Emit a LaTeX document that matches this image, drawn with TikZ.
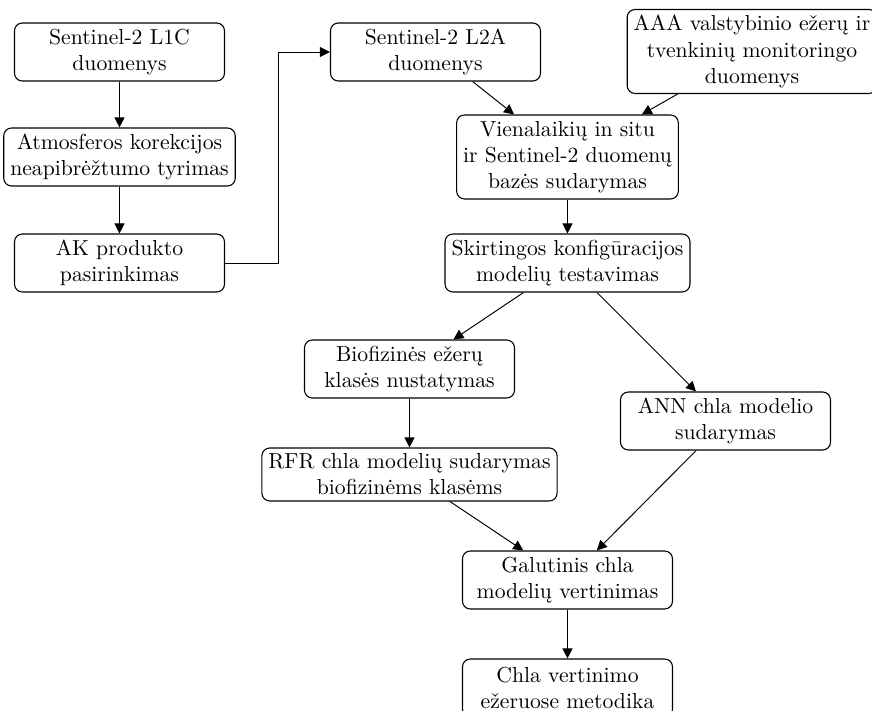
\documentclass[tikz,border=0pt]{standalone}
\usetikzlibrary{arrows.meta}
\newcommand{\pxlen}{0.4608pt}
\begin{document}
\begin{tikzpicture}[x=0.4608pt,y=-0.4608pt,
  box/.style={draw, rounded corners=3.6pt, align=center, inner xsep=3pt, inner ysep=1pt,
    minimum height=58*\pxlen, minimum width=210*\pxlen, line width=0.5pt},
  arr/.style={-{Triangle[length=4.6pt,width=4.6pt]}, line width=0.45pt}]
\useasboundingbox (0,0) rectangle (872,711);
\node[box] (l1c) at (119.5,52) {Sentinel-2 L1C\\duomenys};
\node[box] (atm) at (119.5,157) {Atmosferos korekcijos\\neapibrėžtumo tyrimas};
\node[box] (ak) at (119.5,263) {AK produkto\\pasirinkimas};
\node[box] (l2a) at (435.5,52) {Sentinel-2 L2A\\duomenys};
\node[box, minimum height=84*\pxlen] (aaa) at (752,51.5) {AAA valstybinio ežerų ir\\tvenkinių monitoringo\\duomenys};
\node[box, minimum height=84*\pxlen] (vien) at (567.5,157) {Vienalaikių in situ\\ir Sentinel-2 duomenų\\bazės sudarymas};
\node[box] (skirt) at (567.5,263) {Skirtingos konfigūracijos\\modelių testavimas};
\node[box] (bio) at (409.5,369) {Biofizinės ežerų\\klasės nustatymas};
\node[box] (ann) at (725.5,421) {ANN chla modelio\\sudarymas};
\node[box, minimum height=53*\pxlen] (rfr) at (409.5,474.5) {RFR chla modelių sudarymas\\biofizinėms klasėms};
\node[box] (gal) at (567.5,580) {Galutinis chla\\modelių vertinimas};
\node[box] (chla) at (567.5,688) {Chla vertinimo\\ežeruose metodika};
\draw[arr] (l1c) -- (atm);
\draw[arr] (atm) -- (ak);
\draw[arr] (ak.east) -- ++(53,0) |- (l2a.west);
\draw[arr] (l2a) -- (vien);
\draw[arr] (aaa) -- (vien);
\draw[arr] (vien) -- (skirt);
\draw[arr] (skirt) -- (bio);
\draw[arr] (skirt) -- (ann);
\draw[arr] (bio) -- (rfr);
\draw[arr] (rfr) -- (gal);
\draw[arr] (ann) -- (gal);
\draw[arr] (gal) -- (chla);
\end{tikzpicture}
\end{document}
